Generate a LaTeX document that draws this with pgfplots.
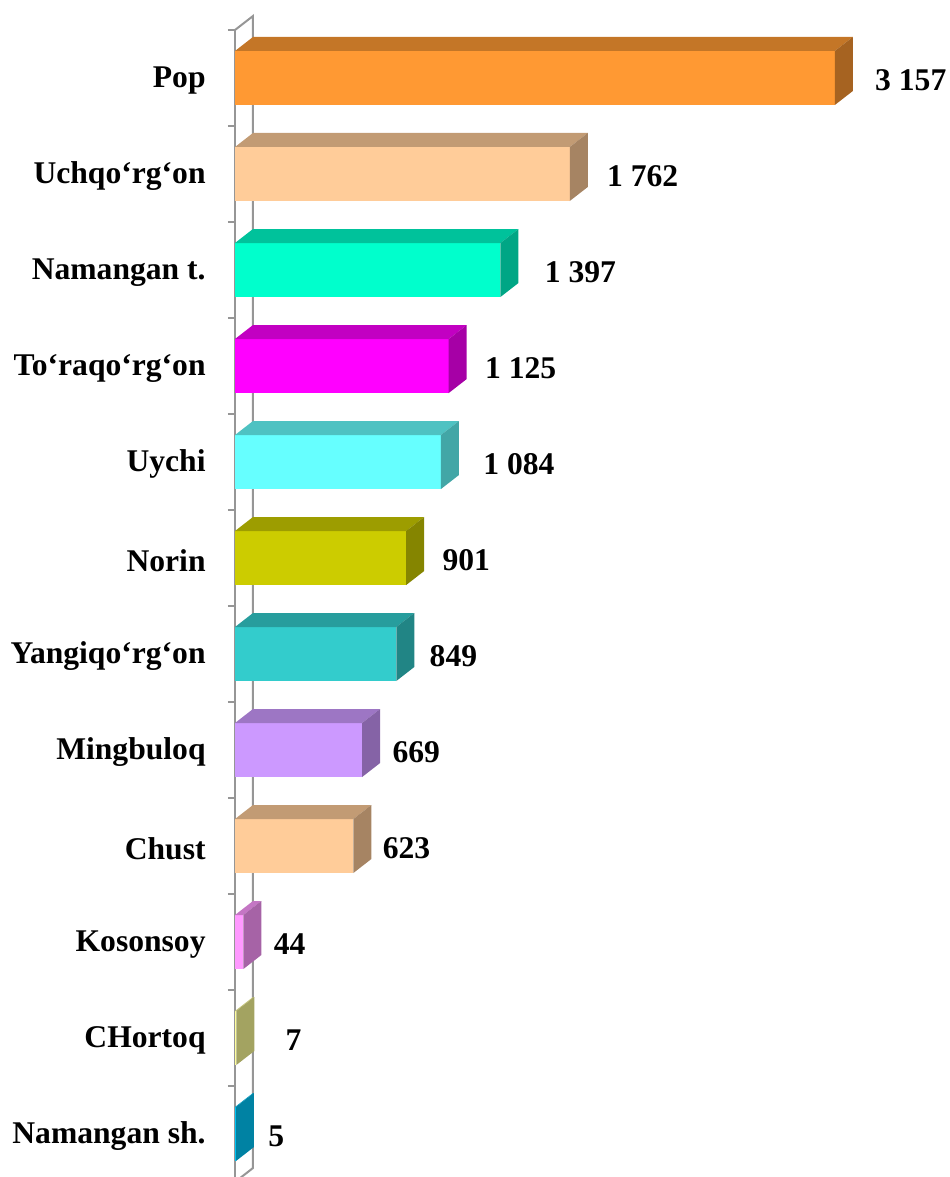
\documentclass[border=0pt]{standalone}
\usepackage{fontspec}
\setmainfont{Liberation Serif}
\usepackage{pgfplots}
\pgfplotsset{compat=1.18}
\definecolor{wallgray}{RGB}{150,150,150}
% front / top / side colours
\definecolor{f1}{RGB}{255,153,51}\definecolor{t1}{RGB}{196,118,39}\definecolor{s1}{RGB}{166,99,33}
\definecolor{f2}{RGB}{255,204,153}\definecolor{t2}{RGB}{194,155,116}\definecolor{s2}{RGB}{166,132,99}
\definecolor{f3}{RGB}{0,255,204}\definecolor{t3}{RGB}{0,194,155}\definecolor{s3}{RGB}{0,166,133}
\definecolor{f4}{RGB}{255,0,255}\definecolor{t4}{RGB}{194,0,194}\definecolor{s4}{RGB}{166,0,166}
\definecolor{f5}{RGB}{102,255,255}\definecolor{t5}{RGB}{78,194,194}\definecolor{s5}{RGB}{66,166,166}
\definecolor{f6}{RGB}{204,204,0}\definecolor{t6}{RGB}{157,157,0}\definecolor{s6}{RGB}{133,133,0}
\definecolor{f7}{RGB}{51,204,204}\definecolor{t7}{RGB}{39,157,157}\definecolor{s7}{RGB}{33,133,133}
\definecolor{f8}{RGB}{204,153,255}\definecolor{t8}{RGB}{157,118,196}\definecolor{s8}{RGB}{133,99,166}
\definecolor{f9}{RGB}{255,204,153}\definecolor{t9}{RGB}{194,155,116}\definecolor{s9}{RGB}{166,132,99}
\definecolor{f10}{RGB}{255,153,255}\definecolor{t10}{RGB}{196,118,196}\definecolor{s10}{RGB}{166,99,166}
\definecolor{f11}{RGB}{255,255,153}\definecolor{t11}{RGB}{196,196,118}\definecolor{s11}{RGB}{163,163,97}
\definecolor{f12}{RGB}{0,204,255}\definecolor{t12}{RGB}{0,157,196}\definecolor{s12}{RGB}{0,130,163}
\newcommand\lblfont{\fontsize{15.8}{18}\selectfont\bfseries}
\tikzset{vlab/.style={anchor=west,inner sep=0pt,font=\lblfont,yshift=-1.2pt}}
% #1 index, #2 value, #3 colour suffix, #4 label text, #5 gap (px)
\newcommand\bart[5]{%
 \pgfmathsetmacro\ya{#1-0.28125}%
 \pgfmathsetmacro\yb{#1+0.28125}%
 \pgfmathsetmacro\yc{\ya-0.14583}%
 \pgfmathsetmacro\yd{\yb-0.14583}%
 \pgfmathsetmacro\xr{#2+94.74}%
 \edef\tmp{%
 \noexpand\addplot[fill=f#3,draw=none] coordinates {(0,\ya) (#2,\ya) (#2,\yb) (0,\yb)} --cycle;
 \noexpand\addplot[fill=t#3,draw=none] coordinates {(0,\ya) (94.74,\yc) (\xr,\yc) (#2,\ya)} --cycle;
 \noexpand\addplot[fill=s#3,draw=none] coordinates {(#2,\ya) (\xr,\yc) (\xr,\yd) (#2,\yb)} --cycle;
 \noexpand\node[vlab,xshift=#5*0.5pt] at (axis cs:\xr,#1) {#4};
 }\tmp}
\begin{document}
\begin{tikzpicture}
\begin{axis}[
 x=0.095pt, y=48pt, y dir=reverse,
 xmin=0, xmax=3300, ymin=-0.5, ymax=11.5,
 axis x line=none, axis y line*=left,
 y axis line style={draw=wallgray,line width=1pt,-},
 ytick={0,...,11},
 yticklabels={Pop,Uchqo‘rg‘on,Namangan t.,To‘raqo‘rg‘on,Uychi,Norin,Yangiqo‘rg‘on,Mingbuloq,Chust,Kosonsoy,CHortoq,Namangan sh.},
 major tick length=0pt,
 minor ytick={-0.5,0.5,...,11.5},
 minor tick length=3.5pt, tick align=outside,
 ytick style={draw=wallgray,line width=1pt},
 yticklabel style={font=\lblfont,anchor=east,inner sep=0pt,xshift=-14.5pt,yshift=-1.2pt},
 clip=false,
]
\addplot[draw=wallgray,line width=1pt] coordinates {(0,-0.5) (94.74,-0.64583) (94.74,11.35417) (0,11.5)};
\bart{0}{3157}{1}{3 157}{22}
\bart{1}{1762}{2}{1 762}{19}
\bart{2}{1397}{3}{1 397}{26}
\bart{3}{1125}{4}{1 125}{18}
\bart{4}{1084}{5}{1 084}{24}
\bart{5}{901}{6}{901}{18}
\bart{6}{849}{7}{849}{15}
\bart{7}{669}{8}{669}{12}
\bart{8}{623}{9}{623}{11}
\bart{9}{44}{10}{44}{12}
\bart{10}{7}{11}{7}{31}
\bart{11}{5}{12}{5}{14}
\coordinate (O) at (axis cs:0,-0.5);
\end{axis}
\pgfresetboundingbox
\useasboundingbox (O) ++(-117.5pt,15pt) rectangle ++(474.5pt,-588.5pt);
\end{tikzpicture}
\end{document}
